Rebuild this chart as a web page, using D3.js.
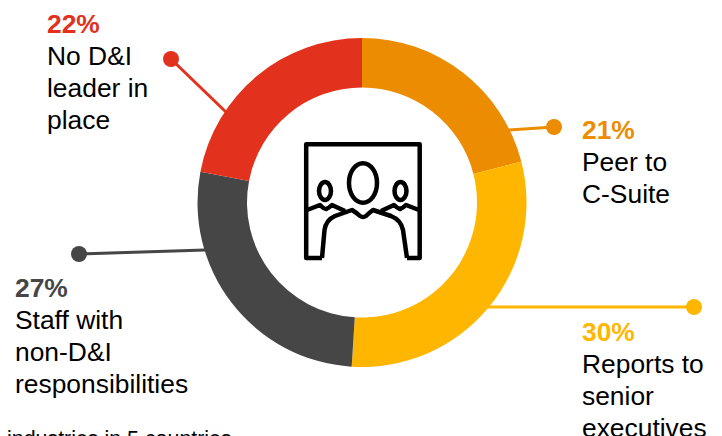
<!DOCTYPE html>
<html>
<head>
<meta charset="utf-8">
<style>
html, body { margin: 0; padding: 0; background: #fff; overflow: hidden; }
svg { display: block; }
text { font-family: "Liberation Sans", Arial, sans-serif; font-size: 26.4px; }
</style>
<script src="https://cdn.jsdelivr.net/npm/d3@7"></script>
</head>
<body>
<svg id="chart" width="722" height="436"></svg>
<script>
const categories = ["Peer to C-Suite", "Reports to senior executives", "Staff with non-D&I responsibilities", "No D&I leader in place"];
const shares = [21, 30, 27, 22];
const colors = ["#ec8c00", "#ffb600", "#464646", "#e2321e"];
const labelLines = [["Peer to", "C-Suite"], ["Reports to", "senior", "executives"], ["Staff with", "non-D&I", "responsibilities"], ["No D&I", "leader in", "place"]];
const labelAnchors = [[582, 139], [582, 341], [15, 297], [47, 33]];
const leaderPaths = [
  [[509, 130], [554, 127]],
  [[480, 307], [694, 307]],
  [[205, 250], [79, 254]],
  [[228, 114], [171, 59]]
];
const footnote = "industries in 5 countries";

const svg = d3.select("#chart");
const cx = 362, cy = 202.5, outer = 164.5, inner = 115;

const pie = d3.pie().sort(null).value(d => d)(shares);
const arc = d3.arc().innerRadius(inner).outerRadius(outer);

// Leader lines sit under the ring, each ending in a round dot
const line = d3.line();
leaderPaths.forEach((p, i) => {
  svg.append("path").attr("d", line(p)).attr("fill", "none")
    .attr("stroke", colors[i]).attr("stroke-width", 3);
  svg.append("circle").attr("cx", p[1][0]).attr("cy", p[1][1]).attr("r", 8).attr("fill", colors[i]);
});

// Donut ring
svg.append("g").attr("transform", `translate(${cx},${cy})`)
  .selectAll("path").data(pie).join("path")
  .attr("d", arc).attr("fill", (d, i) => colors[i]);

// Percentage and description blocks
labelLines.forEach((lines, i) => {
  const [x, y] = labelAnchors[i];
  svg.append("text").attr("x", x).attr("y", y)
    .attr("fill", colors[i]).attr("font-weight", "bold").text(shares[i] + "%");
  lines.forEach((t, j) => {
    svg.append("text").attr("x", x).attr("y", y + 32 * (j + 1)).attr("fill", "#000").text(t);
  });
});

svg.append("text").attr("x", 7).attr("y", 446).style("font-size", "21.4px").attr("fill", "#000").text(footnote);

// Boardroom icon: window frame with three figures
const icon = svg.append("g").attr("fill", "none").attr("stroke", "#000")
  .attr("stroke-width", 4.5).attr("stroke-linejoin", "round");
icon.append("path").attr("d", "M322 258 H306.2 V144.3 H419.7 V258 H407");
icon.append("ellipse").attr("cx", 363).attr("cy", 183).attr("rx", 14).attr("ry", 19.7);
icon.append("ellipse").attr("cx", 325).attr("cy", 191).attr("rx", 6).attr("ry", 9);
icon.append("ellipse").attr("cx", 400.5).attr("cy", 191).attr("rx", 6).attr("ry", 9);
icon.append("path").attr("d", "M322 258 L324.5 230 Q326 220 335 216 L352 210 Q357 213 360 216 Q363 218 366 216 Q369 213 373 210 L391 216 Q401 220 403 230 L407 258");
icon.append("path").attr("d", "M307 210 L320 205 Q324 209 326 209 Q329 208 332 205 L345 211");
icon.append("path").attr("d", "M381 211 L394 205 Q397 208 400 209 Q403 208 406 205 L419 210");
</script>
</body>
</html>
